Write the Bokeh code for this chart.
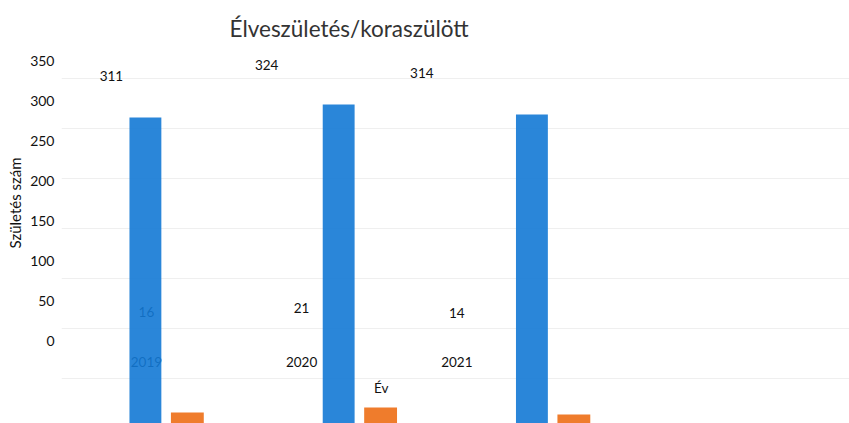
from bokeh.plotting import figure
from bokeh.models import Range1d, LinearAxis, FixedTicker, ColumnDataSource, Grid, Label, Title
from bokeh.transform import dodge
from bokeh.core.properties import value
from bokeh.embed import file_html
from bokeh.resources import INLINE

# ---- data ----
years = ["2019", "2020", "2021"]
elveszuletes = [311, 324, 314]
koraszulott = [16, 21, 14]
y_ticks = [0, 50, 100, 150, 200, 250, 300, 350]
title_text = "Élveszületés/koraszülött"
y_title = "Születés szám"
x_title = "Év"

FONT = "Lato"
BLUE = "#1379d5"
ORANGE = "#ef7c2c"

src = ColumnDataSource(dict(
    idx=list(range(len(years))),
    years=years,
    elv=elveszuletes,
    kora=koraszulott,
    elv_txt=[str(v) for v in elveszuletes],
    kora_txt=[str(v) for v in koraszulott],
))

p = figure(width=849, height=423, output_backend="svg", toolbar_location=None,
           x_axis_location=None, y_axis_location=None,
           x_range=Range1d(-0.5427, 3.5348), y_range=Range1d(5, 383),
           min_border_left=60, min_border_right=0, min_border_bottom=0, min_border_top=45)
p.extra_x_ranges = {"lab": Range1d(-0.4344, 4.6428)}
p.extra_y_ranges = {"lab": Range1d(-103.75, 368.75)}
p.outline_line_color = None
p.background_fill_color = "white"
p.border_fill_color = "white"
for g in list(p.center):
    if isinstance(g, Grid):
        g.visible = False

# faint gridlines on the bar scale
p.add_layout(Grid(dimension=1, ticker=FixedTicker(ticks=y_ticks[1:]),
                  grid_line_color="#efefef", grid_line_width=1), "center")

# left axis with labels (label scale)
ax = LinearAxis(y_range_name="lab", ticker=FixedTicker(ticks=y_ticks))
ax.axis_line_color = None
ax.major_tick_line_color = None
ax.minor_tick_line_color = None
ax.major_tick_out = 0
ax.major_tick_in = 0
ax.major_label_standoff = 7
ax.major_label_text_font = FONT
ax.major_label_text_font_size = "14px"
ax.major_label_text_color = "#111111"
p.add_layout(ax, "left")

# y axis title as a side title
p.add_layout(Title(text=y_title, align="left", offset=175, standoff=7,
                   text_font=FONT, text_font_size="15px", text_font_style="normal",
                   text_color="#111111"), "left")

# title
p.title.text = title_text
p.title.text_font = FONT
p.title.text_font_size = "22.5px"
p.title.text_font_style = "normal"
p.title.text_color = "#333333"
p.title.align = "left"
p.title.offset = 168
p.title.standoff = 8

txt = dict(x_range_name="lab", y_range_name="lab", source=src,
           text_font=value(FONT), text_font_size="13.5px", text_color="#111111",
           text_align="center", text_baseline="middle")
p.text(x=dodge("idx", -0.1126), y="elv", text="elv_txt", y_offset=-16, **txt)
p.text(x=dodge("idx", 0.1126), y="kora", text="kora_txt", y_offset=-16, **txt)
p.text(x=dodge("idx", 0.1126), y=0, text="years", y_offset=21, **txt)

p.add_layout(Label(x=1.625, y=-58.75, text=x_title, x_range_name="lab", y_range_name="lab",
                   text_font=FONT, text_font_size="13.5px", text_color="#111111",
                   text_align="center", text_baseline="middle"))

# bars (drawn over the labels, slightly translucent like the scan)
p.vbar(x=dodge("idx", -0.1085), top="elv", bottom=0, width=0.165, source=src,
       fill_color=BLUE, fill_alpha=0.9, line_color=None)
p.vbar(x=dodge("idx", 0.1085), top="kora", bottom=0, width=0.17, source=src,
       fill_color=ORANGE, line_color=None)

open("out.html", "w").write(file_html(p, INLINE))
